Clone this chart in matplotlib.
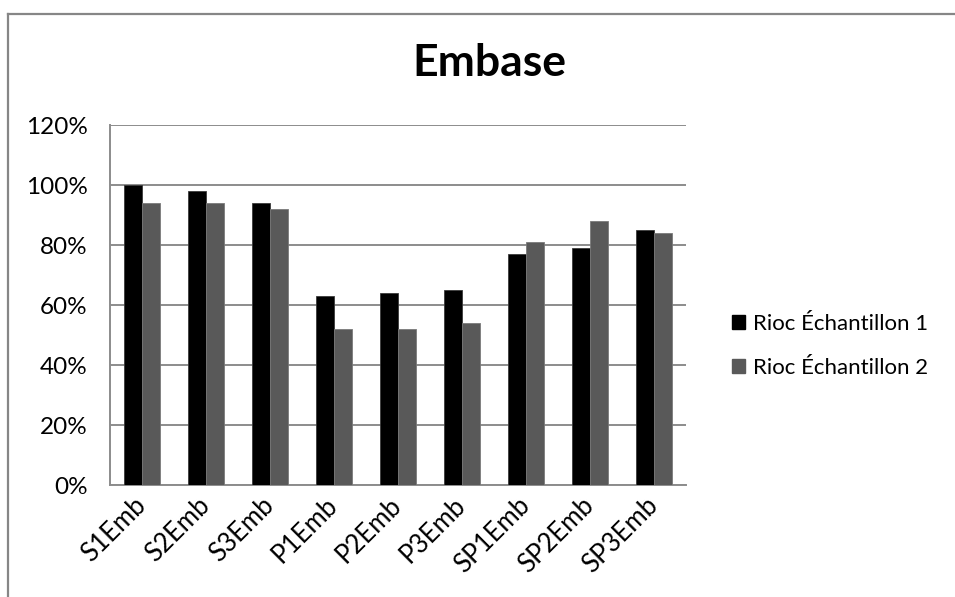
import matplotlib
matplotlib.use("Agg")
import matplotlib.pyplot as plt
from matplotlib.lines import Line2D
from matplotlib.patches import Patch
import numpy as np

plt.rcParams['font.family'] = ['Lato', 'DejaVu Sans']

categories = ["S1Emb", "S2Emb", "S3Emb", "P1Emb", "P2Emb", "P3Emb",
              "SP1Emb", "SP2Emb", "SP3Emb"]
serie1 = [100, 98, 94, 63, 64, 65, 77, 79, 85]
serie2 = [94, 94, 92, 52, 52, 54, 81, 88, 84]
series_names = ["Rioc Échantillon 1", "Rioc Échantillon 2"]
y_ticks = [0, 20, 40, 60, 80, 100, 120]

colors = ["#000000", "#595959"]
grid_color = "#8c8c8c"

fig = plt.figure(figsize=(9.55, 5.97), dpi=100)
ax = fig.add_axes([110 / 955, 1 - 485 / 597, 576 / 955, 360 / 597])

x = np.arange(len(categories))
w = 0.28
ax.bar(x - w / 2, serie1, width=w, color=colors[0], edgecolor="#3a3a3a",
       linewidth=0.6, zorder=3)
ax.bar(x + w / 2, serie2, width=w, color=colors[1], edgecolor="#7a7a7a",
       linewidth=0.6, zorder=3)

ax.set_xlim(-0.5, len(categories) - 0.5)
ax.set_ylim(0, 120)
ax.set_yticks(y_ticks)
ax.set_yticklabels([f"{v}%" for v in y_ticks], fontsize=17.5)
ax.set_xticks(x)
ax.set_xticklabels(categories, rotation=45, ha="right", va="center",
                   rotation_mode="anchor", fontsize=18.5)
ax.tick_params(axis="both", length=0)
ax.tick_params(axis="y", pad=16)
ax.tick_params(axis="x", pad=12)

ax.yaxis.grid(True, color=grid_color, linewidth=1.4, zorder=0)
ax.set_axisbelow(True)
for side in ["top", "right"]:
    ax.spines[side].set_visible(False)
for side in ["left", "bottom"]:
    ax.spines[side].set_color(grid_color)
    ax.spines[side].set_linewidth(1.4)

fig.text(489 / 955, 1 - 63 / 597, "Embase", ha="center", va="center",
         fontsize=32, fontweight="bold")

handles = [Patch(facecolor=c, edgecolor=c) for c in colors]
fig.legend(handles, series_names, loc="center left",
           bbox_to_anchor=(712 / 955, 1 - 346 / 597), frameon=False,
           fontsize=16, handlelength=0.6, handleheight=0.6,
           handletextpad=0.35, labelspacing=1.1)

# chart frame (top and left edges)
fig.add_artist(Line2D([8 / 955, 1], [1 - 14 / 597, 1 - 14 / 597],
                      transform=fig.transFigure, color="#868686", linewidth=1.6))
fig.add_artist(Line2D([8 / 955, 8 / 955], [0, 1 - 14 / 597],
                      transform=fig.transFigure, color="#868686", linewidth=1.6))

fig.savefig("out.png", dpi=100)
